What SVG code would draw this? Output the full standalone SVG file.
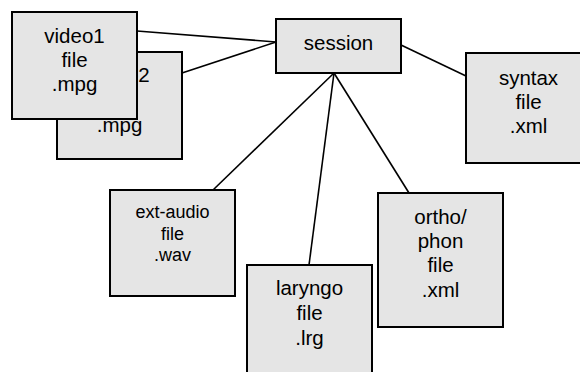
<svg xmlns="http://www.w3.org/2000/svg" width="580" height="372" viewBox="0 0 580 372">
<style>
.box{fill:#e5e5e5;stroke:#000;stroke-width:2}
.t{font-family:"Liberation Sans",Arial,sans-serif;font-size:20.5px;fill:#000;text-anchor:middle}
.s{font-size:18px}
.c line{stroke:#000;stroke-width:1.6}
</style>
<rect width="580" height="372" fill="#fff"/>
<g id="connectors" class="c">
<line x1="137" y1="31" x2="276" y2="42"/>
<line x1="182" y1="73" x2="276" y2="42"/>
<line x1="401" y1="45" x2="466" y2="76"/>
<line x1="334" y1="73" x2="213" y2="190"/>
<line x1="334" y1="73" x2="309" y2="265"/>
<line x1="334" y1="73" x2="409" y2="193"/>
</g>
<g id="video2">
<rect class="box" x="57" y="52" width="125" height="107"/>
<text class="t" x="119.5" y="82">video2</text>
<text class="t" x="119.5" y="107">file</text>
<text class="t" x="119.5" y="132">.mpg</text>
</g>
<g id="video1">
<rect class="box" x="12" y="12" width="125" height="107"/>
<text class="t" x="74.5" y="43">video1</text>
<text class="t" x="74.5" y="67">file</text>
<text class="t" x="74.5" y="91">.mpg</text>
</g>
<g id="session">
<rect class="box" x="276" y="19" width="125" height="54"/>
<text class="t" x="338.5" y="50">session</text>
</g>
<g id="syntax">
<rect class="box" x="466" y="53" width="125" height="110"/>
<text class="t" x="528.5" y="85">syntax</text>
<text class="t" x="528.5" y="109">file</text>
<text class="t" x="528.5" y="133">.xml</text>
</g>
<g id="ext-audio">
<rect class="box" x="110" y="190" width="125" height="106"/>
<text class="t s" x="172.5" y="218">ext-audio</text>
<text class="t s" x="172.5" y="239.5">file</text>
<text class="t s" x="172.5" y="261">.wav</text>
</g>
<g id="laryngo">
<rect class="box" x="247" y="265" width="125" height="120"/>
<text class="t" x="309.5" y="295">laryngo</text>
<text class="t" x="309.5" y="320">file</text>
<text class="t" x="309.5" y="345">.lrg</text>
</g>
<g id="ortho">
<rect class="box" x="378" y="193" width="125" height="134"/>
<text class="t" x="440.5" y="224">ortho/</text>
<text class="t" x="440.5" y="248">phon</text>
<text class="t" x="440.5" y="272">file</text>
<text class="t" x="440.5" y="297">.xml</text>
</g>
</svg>
